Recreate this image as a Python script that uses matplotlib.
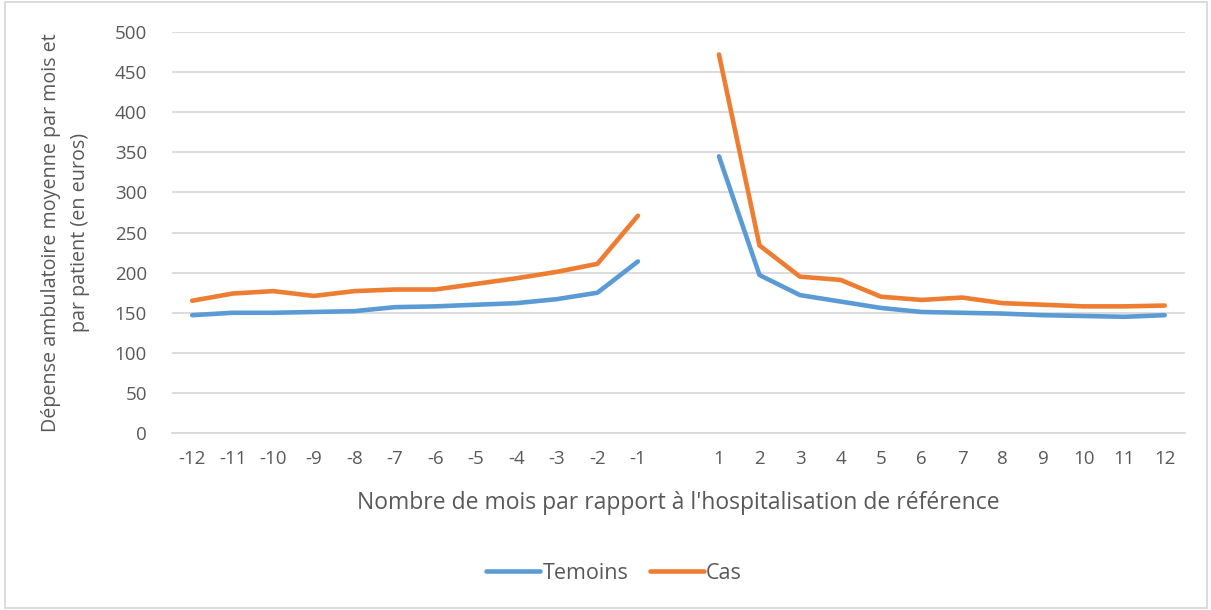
import numpy as np
import matplotlib.pyplot as plt
from matplotlib.patches import Rectangle

plt.rcParams['font.family'] = ['Open Sans', 'DejaVu Sans']

months = ["-12", "-11", "-10", "-9", "-8", "-7", "-6", "-5", "-4", "-3", "-2", "-1",
          "", "1", "2", "3", "4", "5", "6", "7", "8", "9", "10", "11", "12"]
temoins = [147, 150, 150, 151, 152, 157, 158, 160, 162, 167, 175, 214,
           np.nan, 345, 197, 172, 164, 156, 151, 150, 149, 147, 146, 145, 147]
cas = [165, 174, 177, 171, 177, 179, 179, 186, 193, 201, 211, 271,
       np.nan, 472, 234, 195, 191, 170, 166, 169, 162, 160, 158, 158, 159]

grey_txt = '#595959'

fig = plt.figure(figsize=(12.11, 6.10), dpi=100)
ax = fig.add_axes([0.142, 0.290, 0.8365, 0.6575])

x = np.arange(len(months))
ax.plot(x, temoins, color='#5B9BD5', lw=3.3, solid_capstyle='round', solid_joinstyle='round', label='Temoins')
ax.plot(x, cas, color='#ED7D31', lw=3.3, solid_capstyle='round', solid_joinstyle='round', label='Cas')

ax.set_xlim(-0.5, len(months) - 0.5)
ax.set_ylim(0, 500)
ax.set_yticks(np.arange(0, 501, 50))
ax.set_xticks(x)
ax.set_xticklabels(months)
ax.grid(axis='y', color='#d9d9d9', lw=1.3)
ax.set_axisbelow(True)
for s in ['top', 'right', 'left']:
    ax.spines[s].set_visible(False)
ax.spines['bottom'].set_color('#d9d9d9')
ax.spines['bottom'].set_linewidth(1.3)
ax.tick_params(length=0, labelsize=13.5, colors=grey_txt)
ax.tick_params(axis='y', pad=18)
ax.tick_params(axis='x', pad=12)

ax.set_xlabel("Nombre de mois par rapport à l'hospitalisation de référence",
              fontsize=16.5, color=grey_txt, labelpad=17)
ax.set_ylabel("Dépense ambulatoire moyenne par mois et\npar patient (en euros)",
              fontsize=14.2, color=grey_txt, labelpad=18, linespacing=1.55)

fig.legend(loc='center', bbox_to_anchor=(0.507, 0.06), ncol=2, frameon=False,
           fontsize=15.5, handlelength=2.5, handletextpad=0.1, columnspacing=1.0,
           labelcolor=grey_txt)

fig.add_artist(Rectangle((0.004, 0.003), 0.993, 0.994, transform=fig.transFigure,
                         fill=False, edgecolor='#d9d9d9', lw=1.3))

fig.savefig('out.png', dpi=100)
plt.close()
